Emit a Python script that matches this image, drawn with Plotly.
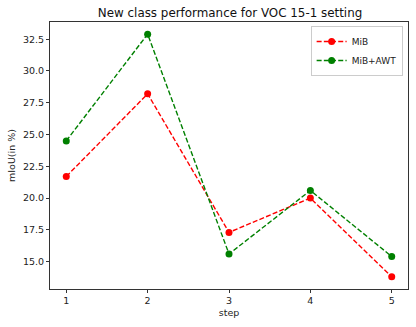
import plotly.graph_objects as go

steps = [1, 2, 3, 4, 5]
mib = [21.7, 28.2, 17.3, 20.0, 13.8]
mib_awt = [24.5, 32.9, 15.6, 20.6, 15.4]

font = "DejaVu Sans"

fig = go.Figure()
fig.add_trace(go.Scatter(x=steps, y=mib, name="MiB", mode="lines+markers",
                         line=dict(color="red", width=1.4, dash="5px,2.2px"),
                         marker=dict(color="red", size=7)))
fig.add_trace(go.Scatter(x=steps, y=mib_awt, name="MiB+AWT", mode="lines+markers",
                         line=dict(color="green", width=1.4, dash="5px,2.2px"),
                         marker=dict(color="green", size=7)))

axis_style = dict(showline=True, linecolor="#333", linewidth=1, mirror=True,
                  showgrid=False, zeroline=False, ticks="outside", ticklen=3,
                  tickcolor="#333", tickfont=dict(size=9.5, color="#222"))

fig.update_layout(
    width=416, height=327,
    margin=dict(l=50, r=8, t=22, b=38),
    paper_bgcolor="white", plot_bgcolor="white",
    font=dict(family=font, color="#222"),
    title=dict(text="New class performance for VOC 15-1 setting", x=0.553, xanchor="center",
               y=0.962, yanchor="middle", font=dict(size=11.9, color="#111")),
    xaxis=dict(range=[0.8, 5.2], tickvals=steps,
               title=dict(text="step", font=dict(size=9.5), standoff=3), **axis_style),
    yaxis=dict(range=[12.845, 33.855], tickvals=[15.0, 17.5, 20.0, 22.5, 25.0, 27.5, 30.0, 32.5],
               tickformat=".1f",
               title=dict(text="mIoU(in %)", font=dict(size=9.5), standoff=5), **axis_style),
    legend=dict(x=0.985, y=0.985, xanchor="right", yanchor="top",
                bgcolor="rgba(255,255,255,0.8)", bordercolor="#ccc", borderwidth=1,
                font=dict(size=9), itemwidth=30, tracegroupgap=0),
    showlegend=True,
)

# the page body has a default 8px margin; drop it so the figure fills the window
fig.write_html("out.html", config={"displayModeBar": False},
               post_script="document.body.style.margin='0';")
